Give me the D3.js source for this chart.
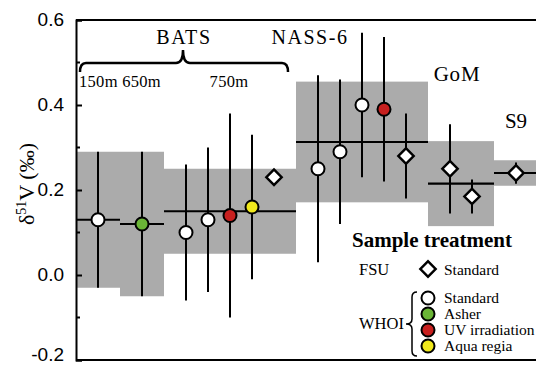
<!DOCTYPE html>
<html>
<head>
<meta charset="utf-8">
<script src="https://cdn.jsdelivr.net/npm/d3@7"></script>
<style>
  body { margin: 0; background: #fff; }
  svg text { fill: #000; }
</style>
</head>
<body>
<div id="chart"></div>
<script>
let w = 536;
let h = 365;

///////////////////////////////////////////////////////////////////////////
// DATA (sample slot along x, delta51V value, 2sd error, treatment)

let sampleX     = [1, 3, 5, 6, 7, 8, 9, 11, 12, 13, 14, 15, 17, 18, 20];
let sampleValue = [0.13, 0.12, 0.10, 0.13, 0.14, 0.16, 0.23, 0.25, 0.29, 0.40, 0.39, 0.28, 0.25, 0.185, 0.24];
let sampleError = [0.16, 0.17, 0.16, 0.17, 0.24, 0.17, 0, 0.22, 0.17, 0.17, 0.17, 0.10, 0.105, 0.04, 0.025];
let sampleType  = ["std", "asher", "std", "std", "uv", "aqua", "fsu", "std", "std", "std", "uv", "fsu", "fsu", "fsu", "fsu"];

// gray boxes = site / depth averages
let boxStart = [0, 2, 4, 10, 16, 19];
let boxEnd   = [2, 4, 10, 16, 19, 21.2];
let boxMean  = [0.13, 0.12, 0.15, 0.313, 0.215, 0.24];
let boxSd    = [0.16, 0.17, 0.10, 0.142, 0.10, 0.03];

let yTicks = [-0.2, 0.0, 0.2, 0.4, 0.6];
let yMinor = [-0.1, 0.1, 0.3, 0.5];

let legendNames = ["Standard", "Asher", "UV irradiation", "Aqua regia"];
let legendTypes = ["std", "asher", "uv", "aqua"];

let fillColors = {std: "#ffffff", asher: "#6ab536", uv: "#c8201f", aqua: "#f0e81c", fsu: "#ffffff"};

///////////////////////////////////////////////////////////////////////////
// SCALES

let x = d3.scaleLinear().domain([0, 21]).range([76, 538]);
let y = d3.scaleLinear().domain([-0.2, 0.6]).range([360, 20]);

let viz = d3.select("#chart")
            .append("svg")
              .attr("width", w)
              .attr("height", h)
;

let serif = "'Liberation Serif', 'Times New Roman', serif";
let sans = "'Liberation Sans', Arial, sans-serif";

///////////////////////////////////////////////////////////////////////////
// gray boxes

let boxes = boxStart.map(function(s, i){
  return {s: s, e: boxEnd[i], m: boxMean[i], sd: boxSd[i]};
});

viz.selectAll(".box").data(boxes)
  .enter()
    .append("rect")
    .attr("class", "box")
    .attr("x", d => x(d.s))
    .attr("width", d => x(d.e) - x(d.s))
    .attr("y", d => y(d.m + d.sd))
    .attr("height", d => y(d.m - d.sd) - y(d.m + d.sd))
    .attr("fill", "#ababab")
;

viz.selectAll(".meanline").data(boxes)
  .enter()
    .append("line")
    .attr("x1", d => x(d.s))
    .attr("x2", d => x(d.e))
    .attr("y1", d => y(d.m))
    .attr("y2", d => y(d.m))
    .attr("stroke", "#000")
    .attr("stroke-width", 2.2)
;

///////////////////////////////////////////////////////////////////////////
// error bars + points

let samples = sampleX.map(function(sx, i){
  return {x: sx, v: sampleValue[i], e: sampleError[i], t: sampleType[i]};
});

viz.selectAll(".err").data(samples.filter(d => d.e > 0))
  .enter()
    .append("line")
    .attr("x1", d => x(d.x))
    .attr("x2", d => x(d.x))
    .attr("y1", d => y(d.v + d.e))
    .attr("y2", d => y(d.v - d.e))
    .attr("stroke", "#000")
    .attr("stroke-width", 2)
;

let diamond = d3.symbol().type(d3.symbolSquare).size(118);

function drawMarker(sel){
  sel.each(function(d){
    let g = d3.select(this);
    if (d.t == "fsu"){
      g.append("path")
        .attr("d", diamond)
        .attr("transform", "rotate(45)")
        .attr("fill", "#fff")
        .attr("stroke", "#000")
        .attr("stroke-width", 2.4);
    } else {
      g.append("circle")
        .attr("r", 6.5)
        .attr("fill", fillColors[d.t])
        .attr("stroke", "#000")
        .attr("stroke-width", 2);
    }
  });
}

viz.selectAll(".pt").data(samples)
  .enter()
    .append("g")
    .attr("transform", d => "translate(" + x(d.x) + "," + y(d.v) + ")")
    .call(drawMarker)
;

///////////////////////////////////////////////////////////////////////////
// axis frame

viz.append("line").attr("x1", 76).attr("x2", w).attr("y1", y(0.6)).attr("y2", y(0.6))
  .attr("stroke", "#000").attr("stroke-width", 2);
viz.append("line").attr("x1", 76).attr("x2", w).attr("y1", y(-0.2)).attr("y2", y(-0.2))
  .attr("stroke", "#000").attr("stroke-width", 2);

let yAxis = d3.axisLeft(y).tickValues(yTicks).tickSize(-6).tickFormat(d3.format(".1f")).tickPadding(12);
let axisG = viz.append("g").attr("transform", "translate(76,0)").call(yAxis);
axisG.select(".domain").attr("stroke-width", 2);
axisG.selectAll(".tick line").attr("stroke-width", 2);
axisG.selectAll(".tick text")
  .attr("font-family", sans)
  .attr("font-size", 19)
  .attr("dy", d => d == -0.2 ? "0.03em" : "0.28em")
  .text(d => d3.format(".1f")(d).replace("−", "-"));

viz.append("g").selectAll("line").data(yMinor)
  .enter()
    .append("line")
    .attr("x1", 76).attr("x2", 80)
    .attr("y1", d => y(d)).attr("y2", d => y(d))
    .attr("stroke", "#000").attr("stroke-width", 2)
;

// y label
let yl = viz.append("text")
  .attr("transform", "translate(34,184) rotate(-90)")
  .attr("text-anchor", "middle")
  .attr("font-family", serif)
  .attr("font-size", 22);
yl.append("tspan").text("δ");
yl.append("tspan").attr("font-size", 14).attr("dy", -8).text("51");
yl.append("tspan").attr("dy", 8).text("V (‰)");

///////////////////////////////////////////////////////////////////////////
// site labels

viz.append("text").attr("x", 184).attr("y", 44).attr("text-anchor", "middle")
  .attr("font-family", serif).attr("font-size", 20).attr("letter-spacing", 1.6).text("BATS");
viz.append("text").attr("x", 310).attr("y", 44).attr("text-anchor", "middle")
  .attr("font-family", serif).attr("font-size", 20).attr("letter-spacing", 1.5).text("NASS-6");
viz.append("text").attr("x", 457).attr("y", 81).attr("text-anchor", "middle")
  .attr("font-family", serif).attr("font-size", 21).attr("letter-spacing", 0.8).text("GoM");
viz.append("text").attr("x", 516).attr("y", 128).attr("text-anchor", "middle")
  .attr("font-family", serif).attr("font-size", 21).text("S9");
viz.append("text").attr("x", 79).attr("y", 87)
  .attr("font-family", serif).attr("font-size", 16.5).attr("letter-spacing", 0.3).text("150m 650m");
viz.append("text").attr("x", 229).attr("y", 87).attr("text-anchor", "middle")
  .attr("font-family", serif).attr("font-size", 16.5).attr("letter-spacing", 0.3).text("750m");

// BATS brace
viz.append("path")
  .attr("d", "M80,72 Q80,63 86,63 L176,63 Q183,63 183,50 Q183,63 190,63 L282,63 Q288,63 288,72")
  .attr("fill", "none").attr("stroke", "#000").attr("stroke-width", 2.5);

///////////////////////////////////////////////////////////////////////////
// legend

viz.append("text").attr("x", 352).attr("y", 247)
  .attr("font-family", serif).attr("font-size", 21).attr("font-weight", "bold").text("Sample treatment");
viz.append("text").attr("x", 359).attr("y", 275)
  .attr("font-family", serif).attr("font-size", 16.5).text("FSU");
viz.append("g").attr("transform", "translate(428,269)")
  .datum({t: "fsu"}).call(drawMarker);
viz.append("text").attr("x", 444).attr("y", 275)
  .attr("font-family", serif).attr("font-size", 15.5).text("Standard");

viz.append("text").attr("x", 359).attr("y", 329)
  .attr("font-family", serif).attr("font-size", 16.5).text("WHOI");
viz.append("path")
  .attr("d", "M417,292 Q412,292 412,297 L412,319 Q412,324 406,324 Q412,324 412,329 L412,351 Q412,356 417,356")
  .attr("fill", "none").attr("stroke", "#000").attr("stroke-width", 1.5);

let legendRows = legendNames.map((n, i) => ({name: n, t: legendTypes[i], i: i}));
let legY = d3.scaleLinear().domain([0, 3]).range([298, 346]);

viz.selectAll(".leg").data(legendRows)
  .enter()
    .append("g")
    .attr("transform", d => "translate(428," + legY(d.i) + ")")
    .call(drawMarker)
;
viz.selectAll(".legtext").data(legendRows)
  .enter()
    .append("text")
    .attr("x", 444)
    .attr("y", d => legY(d.i) + 5)
    .attr("font-family", serif)
    .attr("font-size", 15.5)
    .text(d => d.name)
;
</script>
</body>
</html>
